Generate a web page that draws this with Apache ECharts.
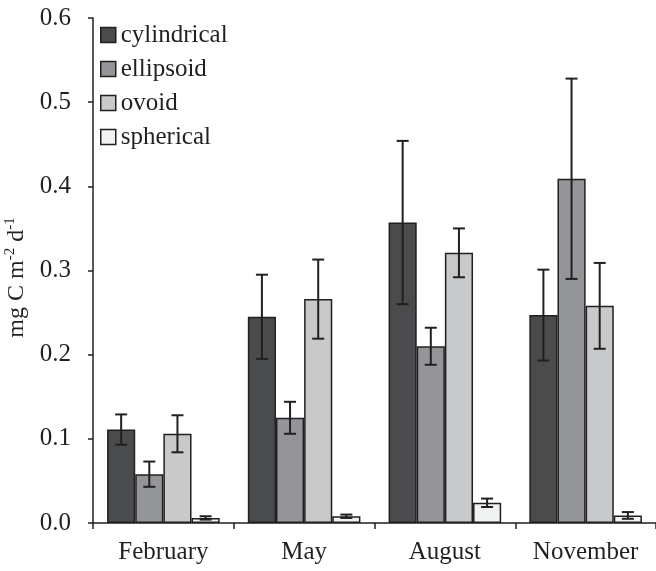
<!DOCTYPE html>
<html><head><meta charset="utf-8">
<script src="https://cdn.jsdelivr.net/npm/echarts@6/dist/echarts.min.js"></script>
<style>html,body{margin:0;padding:0;background:#fff}#c{width:656px;height:571px}</style>
</head><body><div id="c"></div>
<script>
const categories = ['February', 'May', 'August', 'November'];
const seriesNames = ['cylindrical', 'ellipsoid', 'ovoid', 'spherical'];
const cylindrical = [0.111, 0.245, 0.357, 0.247];
const ellipsoid   = [0.058, 0.125, 0.210, 0.409];
const ovoid       = [0.106, 0.266, 0.321, 0.258];
const spherical   = [0.006, 0.008, 0.024, 0.009];
const cylindricalErr = [0.018, 0.050, 0.097, 0.054];
const ellipsoidErr   = [0.015, 0.019, 0.022, 0.119];
const ovoidErr       = [0.022, 0.047, 0.029, 0.051];
const sphericalErr   = [0.002, 0.002, 0.005, 0.004];
const yTicks = [0, 0.1, 0.2, 0.3, 0.4, 0.5, 0.6];

const values = [cylindrical, ellipsoid, ovoid, spherical];
const errs = [cylindricalErr, ellipsoidErr, ovoidErr, sphericalErr];
const colors = ['#4a4b4d', '#939598', '#c8c9cb', '#f1f2f2'];
const ink = '#231f20';
const font = '"Liberation Serif", serif';
const fs = 25;
const catGap = 0.2;

const chart = echarts.init(document.getElementById('c'));
const series = [];
seriesNames.forEach((n, i) => {
  series.push({
    name: n, type: 'bar', data: values[i],
    barGap: 0, barCategoryGap: '20%',
    itemStyle: { color: colors[i], borderColor: ink, borderWidth: 1.5 },
    emphasis: { disabled: true }, z: 2
  });
});
seriesNames.forEach((n, i) => {
  series.push({
    type: 'custom', name: n + '_err', z: 5, silent: true,
    data: values[i].map((v, k) => [k, v, errs[i][k]]),
    renderItem: function (params, api) {
      const k = api.value(0), v = api.value(1), e = api.value(2);
      const band = api.size([1, 0])[0];
      const gw = band * (1 - catGap);
      const bw = gw / 4;
      const c = api.coord([k, v]);
      const x = c[0] - gw / 2 + bw * (i + 0.5);
      const yt = api.coord([k, v + e])[1];
      const yb = api.coord([k, v - e])[1];
      const hw = 6;
      const st = { stroke: ink, lineWidth: 2 };
      return { type: 'group', children: [
        { type: 'line', shape: { x1: x, y1: yt, x2: x, y2: yb }, style: st },
        { type: 'line', shape: { x1: x - hw, y1: yt, x2: x + hw, y2: yt }, style: st },
        { type: 'line', shape: { x1: x - hw, y1: yb, x2: x + hw, y2: yb }, style: st }
      ]};
    }
  });
});

chart.setOption({
  animation: false,
  textStyle: { fontFamily: font },
  grid: { left: 93, right: 0, top: 18, bottom: 48, containLabel: false, outerBoundsMode: 'none' },
  legend: {
    data: seriesNames, orient: 'vertical', left: 95, top: 17,
    itemWidth: 15, itemHeight: 15, itemGap: 8,
    icon: 'rect',
    itemStyle: { borderColor: ink, borderWidth: 1.5 },
    textStyle: { fontFamily: font, fontSize: fs, lineHeight: 26, color: '#231f20' },
    selectedMode: false
  },
  xAxis: {
    type: 'category', data: categories,
    axisLine: { lineStyle: { color: ink, width: 1.5 } },
    axisTick: { show: true, length: 6, lineStyle: { color: ink, width: 1.5 } },
    axisLabel: { fontFamily: font, fontSize: fs, color: '#231f20', margin: 17 }
  },
  yAxis: {
    type: 'value', min: 0, max: 0.6, interval: 0.1,
    axisLine: { show: true, lineStyle: { color: ink, width: 1.5 } },
    axisTick: { show: true, length: 5, lineStyle: { color: ink, width: 1.5 } },
    splitLine: { show: false },
    axisLabel: { fontFamily: font, fontSize: fs, color: '#231f20', margin: 22,
      formatter: v => v.toFixed(1) },
    name: '{n|mg C m}{s|-2}{n| d}{s|-1}',
    nameLocation: 'middle', nameGap: 63, nameRotate: 90,
    nameTextStyle: {
      padding: [0, 14, 0, 0],
      rich: {
        n: { fontFamily: font, fontSize: 24, color: '#231f20', lineHeight: 26, verticalAlign: 'bottom' },
        s: { fontFamily: font, fontSize: 15, color: '#231f20', lineHeight: 26, verticalAlign: 'top' }
      }
    }
  },
  series: series
});
</script></body></html>
